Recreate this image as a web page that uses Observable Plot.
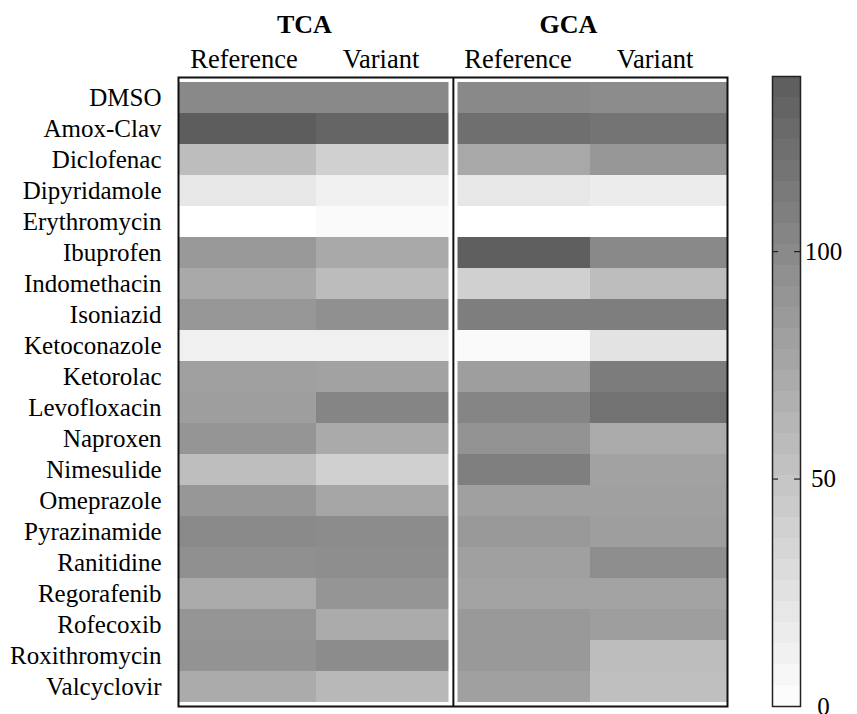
<!DOCTYPE html>
<html>
<head>
<meta charset="utf-8">
<script src="https://cdn.jsdelivr.net/npm/d3@7"></script>
<script src="https://cdn.jsdelivr.net/npm/@observablehq/plot@0.6"></script>
<style>
  html, body { margin: 0; padding: 0; background: #fff; }
  #wrap { position: relative; width: 857px; height: 714px; overflow: hidden; }
  #heat { position: absolute; left: 0; top: 0; }
  #bar { position: absolute; left: 760px; top: 0; }
</style>
</head>
<body>
<div id="wrap"><div id="heat"></div><div id="bar"></div></div>
<script>
const drugs = ["DMSO","Amox-Clav","Diclofenac","Dipyridamole","Erythromycin","Ibuprofen","Indomethacin","Isoniazid","Ketoconazole","Ketorolac","Levofloxacin","Naproxen","Nimesulide","Omeprazole","Pyrazinamide","Ranitidine","Regorafenib","Rofecoxib","Roxithromycin","Valcyclovir"];
const groups = ["TCA","GCA"];
const subs = ["Reference","Variant"];
const tcaReference = [100, 138, 56, 20, 0, 87, 73, 88, 13, 81, 82, 90, 55, 88, 99, 94, 71, 90, 92, 71];
const tcaVariant   = [100, 131, 40, 13, 4, 73, 57, 94, 13, 79, 104, 72, 40, 76, 98, 96, 90, 71, 98, 60];
const gcaReference = [100, 122, 74, 20, 0, 136, 40, 110, 4, 82, 104, 92, 109, 81, 87, 81, 78, 87, 87, 81];
const gcaVariant   = [98, 118, 88, 16, 0, 100, 56, 110, 24, 111, 120, 71, 79, 81, 82, 96, 78, 82, 56, 54];
const colorMax = 138.5;
const colorTicks = [0, 50, 100];

const series = {
  "TCA Reference": tcaReference, "TCA Variant": tcaVariant,
  "GCA Reference": gcaReference, "GCA Variant": gcaVariant
};
const columns = groups.flatMap(g => subs.map(s => ({key: g + " " + s, group: g, sub: s})));
const data = columns.flatMap(c => drugs.map((d, i) => ({drug: d, col: c.key, value: series[c.key][i]})));

const color = {type: "linear", domain: [0, colorMax], range: ["#ffffff", "#5c5c5c"], interpolate: "rgb"};
const font = {fontFamily: "'Liberation Serif', 'Times New Roman', serif", fontSize: "25px", color: "black", background: "transparent"};

const W = 740, ML = 178, MR = 13;
const bw = (W - ML - MR) / columns.length;
const gap = 4.5;

const heat = Plot.plot({
  width: W, height: 714,
  marginLeft: ML, marginRight: MR, marginTop: 77, marginBottom: 8,
  style: font,
  x: {domain: columns.map(c => c.key), padding: 0, axis: null},
  y: {domain: drugs, padding: 0, label: null, tickSize: 0, tickPadding: 17},
  color,
  marks: [
    Plot.cell(data.filter(d => d.col === "TCA Reference" || d.col === "GCA Variant"), {x: "col", y: "drug", fill: "value"}),
    Plot.cell(data.filter(d => d.col === "TCA Variant"), {x: "col", y: "drug", fill: "value", insetRight: gap}),
    Plot.cell(data.filter(d => d.col === "GCA Reference"), {x: "col", y: "drug", fill: "value", insetLeft: gap}),
    Plot.ruleX(["GCA Reference"], {x: d => d, dx: -bw / 2, stroke: "#111", strokeWidth: 2}),
    Plot.frame({stroke: "#111", strokeWidth: 2}),
    Plot.text(columns, {x: "key", text: "sub", frameAnchor: "top", lineAnchor: "bottom", dx: -4, dy: -10, fontSize: 26.5}),
    Plot.text(columns.filter(c => c.sub === "Variant" && c.group === "TCA"), {x: "key", text: "group", frameAnchor: "top", lineAnchor: "bottom", dx: -bw / 2 - 12, dy: -45, fontWeight: "bold", fontSize: 26}),
    Plot.text(columns.filter(c => c.sub === "Variant" && c.group === "GCA"), {x: "key", text: "group", frameAnchor: "top", lineAnchor: "bottom", dx: -bw / 2 - 22, dy: -45, fontWeight: "bold", fontSize: 26})
  ]
});
document.getElementById("heat").appendChild(heat);

const nSteps = 30;
const step = colorMax / nSteps;
const ramp = d3.range(nSteps).map(i => i * step);

const bar = Plot.plot({
  width: 97, height: 714,
  marginLeft: 12, marginRight: 57, marginTop: 76, marginBottom: 8,
  style: font,
  y: {domain: [0, colorMax], axis: null},
  color,
  marks: [
    Plot.rect(ramp, {y1: d => d, y2: d => Math.min(colorMax, d + step + 0.05), fill: d => d + step / 2}),
    Plot.tickY(colorTicks.filter(v => v > 0), {y: d => d, stroke: "#222", strokeWidth: 1.2, insetRight: 22}),
    Plot.tickY(colorTicks.filter(v => v > 0), {y: d => d, stroke: "#222", strokeWidth: 1.2, insetLeft: 22}),
    Plot.axisY({anchor: "right", ticks: colorTicks, tickSize: 0, tickPadding: 23, textAnchor: "middle", label: null}),
    Plot.frame({stroke: "#222", strokeWidth: 1.5})
  ]
});
document.getElementById("bar").appendChild(bar);
</script>
</body>
</html>
